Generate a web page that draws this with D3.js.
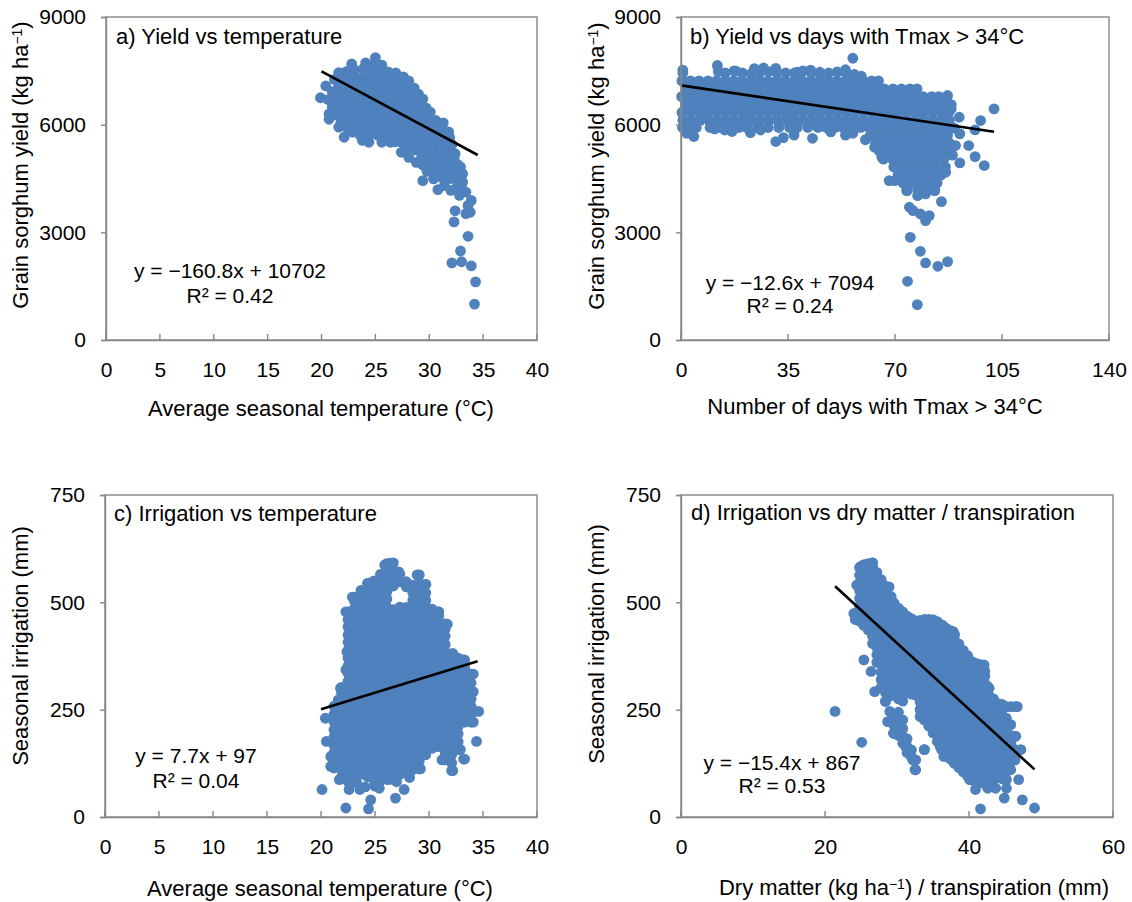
<!DOCTYPE html>
<html><head><meta charset="utf-8">
<script src="https://cdn.jsdelivr.net/npm/d3@7"></script>
<style>
body{margin:0;background:#fff}
text{font-family:"Liberation Sans",Arial,sans-serif;fill:#000}
</style>
</head><body>
<svg id="chart" width="1132" height="902"></svg>
<script>
// ---------- Tick labels ----------
const tempTicks = [0,5,10,15,20,25,30,35,40];
const daysTicks = [0,35,70,105,140];
const dmtTicks = [0,20,40,60];
const yieldTicks = [0,3000,6000,9000];
const irrTicks = [0,250,500,750];

// ---------- a) Yield vs temperature (x = °C, y = kg/ha) ----------
const yieldTempPts = [
[25.0,7870],
[22.8,7690],[24.1,7720],[24.7,7650],[25.6,7660],
[21.6,7450],[22.3,7480],[23.1,7520],[23.9,7560],[24.7,7480],[25.5,7530],[26.2,7470],[26.9,7440],
[21.2,7260],[22.0,7300],[22.8,7320],[23.6,7290],[24.4,7330],[25.2,7300],[26.0,7310],[26.8,7280],[27.6,7330],[28.1,7220],
[20.4,7080],[21.6,7100],[22.4,7120],[23.2,7090],[24.0,7110],[24.8,7100],[25.6,7120],[26.4,7090],[27.2,7110],[28.0,7080],[28.6,7020],
[21.0,6920],[21.8,6890],[22.6,6910],[23.4,6880],[24.2,6900],[25.0,6920],[25.8,6890],[26.6,6900],[27.4,6910],[28.2,6880],[29.0,6850],
[19.9,6750],[20.6,6700],[21.4,6690],[22.2,6720],[23.0,6700],[23.8,6680],[24.6,6710],[25.4,6700],[26.2,6690],[27.0,6710],[27.8,6700],[28.6,6680],[29.4,6720],
[21.0,6500],[21.8,6520],[22.6,6490],[23.4,6510],[24.2,6500],[25.0,6480],[25.8,6510],[26.6,6500],[27.4,6490],[28.2,6520],[29.0,6500],[29.7,6470],
[20.7,6300],[21.4,6280],[22.2,6310],[23.0,6300],[23.8,6290],[24.6,6320],[25.4,6300],[26.2,6280],[27.0,6310],[27.8,6300],[28.6,6290],[29.4,6310],[30.1,6350],
[20.7,6150],[21.8,6100],[22.6,6080],[23.4,6110],[24.2,6100],[25.0,6090],[25.8,6110],[26.6,6100],[27.4,6080],[28.2,6110],[29.0,6100],[29.8,6090],[30.6,6120],[31.3,6050],
[21.6,5930],[22.4,5900],[23.2,5880],[24.0,5910],[24.8,5890],[25.6,5900],[26.4,5920],[27.2,5890],[28.0,5900],[28.8,5880],[29.6,5910],[30.4,5900],[31.2,5890],[31.8,5800],
[22.1,5650],[22.9,5790],[23.6,5700],[24.4,5690],[25.2,5710],[26.0,5700],[26.8,5680],[27.6,5710],[28.4,5700],[29.2,5690],[30.0,5710],[30.8,5700],[31.6,5680],[31.9,5640],
[23.8,5560],[24.4,5510],[25.6,5510],[26.4,5510],[26.8,5520],[27.5,5490],[28.2,5510],[29.0,5500],[29.8,5480],[30.6,5510],[31.4,5500],[32.1,5450],
[27.4,5230],[28.0,5300],[28.8,5290],[29.6,5310],[30.4,5300],[31.2,5280],[31.9,5320],[32.4,5190],
[28.1,5090],[28.8,4950],[29.3,5100],[30.0,5080],[30.8,5110],[31.6,5090],[32.3,5060],
[29.4,4880],[30.2,4900],[31.0,4920],[31.8,4890],[32.6,4900],[32.9,4820],
[29.8,4700],[30.6,4690],[31.4,4710],[32.2,4700],[32.9,4680],[33.1,4630],
[29.4,4440],[30.4,4490],[31.2,4520],[32.0,4500],[32.8,4480],[33.1,4400],
[30.8,4190],[31.4,4300],[32.0,4170],[32.6,4290],[33.0,4250],[33.4,4120],
[33.9,3890],[32.8,4030],[33.6,3750],[33.8,3560],[33.4,3520],[32.4,3600],[32.3,3290],
[33.6,2890],[32.9,2480],[32.1,2150],[33.0,2180],[33.9,2065],[34.3,1620],[34.2,1000]
];
const yieldTempFit = [-160.8, 10702, 20.0, 34.5];

// ---------- b) Yield vs days with Tmax > 34°C (rows: y, list of x) ----------
const daysYieldRows = [
[7440,[0.6,14.5,20.1,25.8,31.4,37.1,42.6,48.3,53.9]],
[7220,[0.3,3.1,5.9,8.8,11.6,14.4,17.2,20.0,22.9,25.7,28.5,31.3,34.1,37.0,39.8,42.6,45.4,48.2,51.0,53.9,56.7,59.5,62.3,64.6]],
[7000,[1.6,4.5,7.3,10.1,12.9,15.8,18.6,21.4,24.2,27.0,29.9,32.7,35.5,38.3,41.1,43.9,46.8,49.6,52.4,55.2,58.0,60.9,63.7,66.5,69.3,72.1,74.9,77.2]],
[6780,[0.2,3.0,5.9,8.7,11.5,14.3,17.1,20.0,22.8,25.6,28.4,31.2,34.1,36.9,39.7,42.5,45.3,48.2,51.0,53.8,56.6,59.4,62.3,65.1,67.9,70.7,73.5,76.4,79.2,82.0,84.3,87.0]],
[6560,[1.5,4.4,7.2,10.0,12.8,15.6,18.5,21.3,24.1,26.9,29.7,32.6,35.4,38.2,41.0,43.8,46.7,49.5,52.3,55.1,57.9,60.8,63.6,66.4,69.2,72.0,74.9,77.7,80.5,83.3,86.0,88.4]],
[6340,[0.3,3.1,5.9,8.7,11.6,14.4,17.2,20.0,22.8,25.7,28.5,31.3,34.1,36.9,39.8,42.6,45.4,48.2,51.0,53.9,56.7,59.5,62.3,65.1,68.0,70.8,73.6,76.4,79.2,82.1,84.9,87.6]],
[6120,[0.6,3.4,6.3,9.1,11.9,14.7,17.5,20.4,23.2,26.0,28.8,31.6,34.5,37.3,40.1,42.9,45.7,48.6,51.4,54.2,57.0,59.8,62.7,65.5,68.3,71.1,73.9,76.8,79.6,82.4,85.2,87.8]],
[5920,[0.5,2.5,5.0,9.5,13.0,15.8,19.0,21.5,25.0,28.5,32.0,35.5,38.0,41.5,44.8,47.5,50.5,53.0,56.0,58.8,61.5,64.2,67.0,69.8,72.6,75.4,78.2,81.0,83.8,86.6]],
[5700,[61.9,64.7,67.5,70.3,73.1,76.0,78.8,81.6,84.4,87.2]],
[5480,[63.6,66.3,69.1,71.9,74.7,77.6,80.4,83.2,86.0,87.9]],
[5260,[64.9,67.7,70.5,73.3,76.1,79.0,81.8,84.6,87.3]],
[5040,[66.2,69.1,71.9,74.7,77.5,80.3,83.2,86.0]],
[4820,[69.6,72.4,75.2,78.0,80.9,83.7,86.5]],
[4600,[71.0,73.8,76.6,79.4,82.3,85.1]],
[4380,[72.6,75.4,78.2,81.0,83.8]],
[4170,[74.0,77.4,80.0,83.0]]
];
const daysYieldExtra = [
[0.6,7520],[11.9,7650],[18.0,7490],[24.0,7560],[27.0,7580],[31.0,7570],[42.4,7520],[45.4,7460],[53.8,7530],[56.2,7850],[38.0,7460],
[12.2,7480],[17.4,7500],[23.0,7420],[28.7,7480],[34.2,7440],[39.9,7500],[45.5,7420],[51.1,7470],[56.7,7400],[59.0,7350],
[1.8,5760],[4.2,5670],[3.6,5950],[14.3,5850],[16.7,5810],[22.7,5780],[31.0,5530],[33.5,5640],[37.0,5710],[43.0,5620],[49.0,5800],[53.8,5710],[56.2,5760],[60.3,5580],[11.0,5880],[26.0,5850],
[88.4,6440],[91.0,6208],[98.0,6115],[102.4,6440],[96.2,5855],[91.2,5743],[94.1,5418],[89.8,5418],[96.2,5111],[99.2,4861],[91.2,4935],[86.6,4675],[87.2,6812],[89.5,5900],[88.8,5150],
[85.2,3857],[74.7,3699],[75.9,3606],[78.3,3513],[80.0,3327],[81.2,3467],[75.0,2862],[78.3,2472],[80.0,2147],[84.0,2054],[87.2,2184],[74.1,1636],[77.3,985],
[77.4,4024],[80.0,4070],[83.0,4164],[68.1,4442],[69.9,4442],[72.9,4368],[73.8,4164],[65.7,5090],[63.3,5370]
];
const daysYieldFit = [-12.6, 7094, 0, 102.4];

// ---------- c) Irrigation vs temperature (columns: x, list of y) ----------
const irrTempCols = [
[21.2,[114,131,150,167,186,203,222,239,258]],
[21.9,[93,110,129,146,165,182,201,218,237,254,273,290,302]],
[22.5,[83,100,119,136,155,172,191,208,227,244,263,280,299,316,335,352,371,388,407,424,443,460,478]],
[23.1,[90,109,126,145,162,181,198,217,234,253,270,289,306,325,342,361,378,397,414,433,450,469,486,503,512]],
[23.7,[100,117,136,153,172,189,208,225,244,261,280,297,316,333,352,369,388,405,424,441,460,477,496,513,528]],
[24.3,[94,113,130,149,166,185,202,221,238,257,274,293,310,329,346,365,382,401,418,437,454,473,490,509,526,544]],
[24.9,[87,106,123,142,159,178,195,214,231,250,267,286,303,322,339,358,375,394,411,430,447,466,483,502,519,536,550]],
[25.5,[84,103,120,139,156,175,192,211,228,247,264,283,300,319,336,355,372,391,408,427,444,463,480,499,516,535,552,565]],
[26.1,[93,112,129,148,165,184,201,220,237,256,273,292,309,328,345,364,381,400,417,436,453,472,489,508,525,544,561,578,590]],
[26.7,[87,104,123,140,159,176,195,212,231,248,267,284,303,320,339,356,375,392,411,428,447,464,483,538,556,574,592]],
[27.3,[99,118,135,154,171,190,207,226,243,262,279,298,315,334,351,370,387,406,423,442,459,478,489,548,566]],
[27.9,[110,127,146,163,182,199,218,235,254,271,290,307,326,343,362,379,398,415,434,451,470,488,536,548]],
[28.5,[110,128,145,164,181,200,217,236,253,272,289,308,325,344,361,380,397,416,433,452,469,488,505,522,540]],
[29.1,[112,130,148,165,184,201,220,237,256,273,292,309,328,345,364,381,400,417,436,453,472,489,508,525,544,564]],
[29.7,[145,163,180,199,216,235,252,271,288,307,324,343,360,379,396,415,432,451,468,487,504,522,542]],
[30.3,[160,178,197,214,233,250,269,286,305,322,341,358,377,394,413,430,449,466,484]],
[30.9,[164,182,199,218,235,254,271,290,307,326,343,362,379,398,415,434,451,468,478]],
[31.5,[133,150,169,186,205,222,241,258,277,294,313,330,349,366,385,402,421,438,450]],
[32.1,[108,126,145,162,181,198,217,234,253,270,289,306,325,342,361,380]],
[32.7,[157,175,194,211,230,247,266,283,302,319,338,355,370]],
[33.3,[135,221,240,257,276,293,312,329,348,366]],
[33.9,[221,239,258,275,294,312,333]]
];
const irrTempExtra = [
[20.1,64],[20.4,230],[20.5,176],[20.9,118],[20.9,141],[21.7,87],[22.3,21],[24.4,19],[24.6,40],[25.4,67],[26.9,44],[27.7,64],
[28.0,110],[29.2,112],[29.0,141],[30.4,164],[31.2,133],[32.2,108],[32.9,157],[33.2,135],[34.4,176],[34.6,246],[34.1,292],[34.1,333],
[34.1,221],[33.1,366],[32.2,381],[31.7,449],[30.9,478],[29.7,542],[28.9,564],[27.2,571],[26.4,591],[25.9,587],[24.9,548],[24.4,544],
[22.9,512],[22.3,478],[22.6,455],[22.4,385],[22.3,343],[21.6,273],[21.8,300],[22.6,64],[23.6,64],[26.2,87],[31.2,437],[32.6,300],[33.8,280],
[24.1,70],[25.0,72],[23.3,80],[27.0,82],[28.2,92]
];
const irrTempFit = [7.7, 97, 20.0, 34.5];

// ---------- d) Irrigation vs dry matter / transpiration (columns: x, list of y) ----------
const irrDmtCols = [
[24.8,[456,474,491,509,527,545,563,581]],
[25.4,[446,463,482,499,518,535,554,571,588]],
[26.0,[436,454,471,490,507,526,543,562,579,590]],
[26.6,[404,421,440,457,476,493,512,529,548,565,583,592]],
[27.2,[360,378,395,414,431,450,467,486,503,522,539,558,570]],
[27.8,[302,320,337,356,373,392,409,428,445,464,481,500,517,536,553]],
[28.4,[270,290,307,326,343,362,379,398,415,434,451,470,487,506,523,538]],
[29.0,[222,246,282,299,318,335,354,371,390,407,426,443,462,479,498,514]],
[29.6,[195,213,231,284,301,320,337,356,373,392,409,428,445,464,481,498]],
[30.2,[190,208,226,244,275,294,311,330,347,366,383,402,419,438,455,474,486]],
[30.8,[172,188,206,226,270,289,306,325,342,361,378,397,414,433,450,469,478]],
[31.4,[150,164,182,290,307,326,343,362,379,398,415,434,451,468]],
[32.0,[140,156,286,303,322,339,358,375,394,411,430,447,462]],
[32.6,[110,133,284,303,320,339,356,375,392,411,428,447,457]],
[33.2,[234,250,268,287,304,323,340,359,376,395,412,431,448,458]],
[33.8,[157,226,244,261,280,297,316,333,352,369,388,405,424,441,460]],
[34.4,[212,229,248,265,284,301,320,337,356,373,392,409,428,445,460]],
[35.0,[196,214,231,250,267,286,303,322,339,358,375,394,411,430,447,459]],
[35.6,[176,193,212,229,248,265,284,301,320,337,356,373,392,409,428,445,455]],
[36.2,[157,175,192,211,228,247,264,283,300,319,336,355,372,391,408,427,447]],
[36.8,[141,159,176,195,212,231,248,267,284,303,320,339,356,375,392,411,428,440]],
[37.4,[135,153,170,189,206,225,242,261,278,297,314,333,350,369,386,405,422,434]],
[38.0,[125,143,160,179,196,215,232,251,268,287,304,323,340,359,376,395,412,425]],
[38.6,[115,133,150,169,186,205,222,241,258,277,294,313,330,349,366,385,403]],
[39.2,[105,123,140,159,176,195,212,231,248,267,284,303,320,339,356,374,388]],
[39.8,[95,113,130,149,166,185,202,221,238,257,274,293,310,329,346,364,376]],
[40.4,[86,100,117,136,153,172,189,208,225,244,261,280,297,316,333,350,362]],
[41.0,[82,99,118,135,154,171,190,207,226,243,262,279,298,315,332,350,358]],
[41.6,[80,97,116,133,152,169,188,205,224,241,260,277,296,313,330,346,355]],
[42.2,[78,95,114,131,150,167,186,203,222,239,258,275,294,311,328,340]],
[42.8,[85,102,121,138,157,174,193,210,229,246,265,282,300]],
[43.4,[85,104,121,140,157,176,193,212,229,248,265,275]],
[44.0,[95,114,131,150,167,186,203,222,239,256,264]],
[44.6,[89,106,125,142,161,178,197,214,233,250,262]],
[45.2,[87,106,123,142,159,178,195,211,230,257]],
[45.8,[110,128,150,172,190,215,257]],
[46.4,[133,157,188,257]]
];
const irrDmtExtra = [
[21.4,246],[25.1,174],[25.4,366],[26.4,339],[26.9,292],[24.2,460],[24.0,474],[24.4,540],[24.9,583],[26.6,592],
[41.6,19],[47.2,157],[46.9,87],[47.4,40],[49.1,21],[46.5,188],[45.2,211],[46.7,257],[44.2,261],[43.1,273],[42.6,304],
[42.1,354],[40.6,358],[39.1,385],[37.8,432],[36.3,447],[35.0,459],[32.7,455],[30.2,486],[29.2,513],[28.9,536],[27.4,556],
[33.8,157],[32.5,110],[32.2,133],[31.7,149],[31.2,164],[30.7,188],[29.5,195],[28.7,222],[28.4,269],
[40.9,64],[40.1,87],[39.1,110],[37.8,129],[36.5,141],[36.0,164],[35.0,203],[42.6,67],[43.7,67],[44.9,44],[45.2,67],[46.2,133]
];
const irrDmtFit = [-15.4, 867, 21.4, 49.1];

// ---------- helpers ----------
const fromRows = rows => rows.flatMap(([y, xs]) => xs.map(x => [x, y]));
const fromCols = cols => cols.flatMap(([x, ys]) => ys.map(y => [x, y]));

const panels = [
  {l:106,r:537,t:17,b:340, xd:[0,40], xt:tempTicks, yd:[0,9000], yt:yieldTicks,
   pts: yieldTempPts, fit: yieldTempFit,
   title:"a) Yield vs temperature", tx:116, ty:44,
   xl:"Average seasonal temperature (°C)", xlx:321, xly:416,
   yl:["Grain sorghum yield (kg ha","−1",")"], ylx:28, yly:165,
   eq:["y = −160.8x + 10702","R² = 0.42"], ex:230, ey:[278,303]},
  {l:681,r:1109,t:17,b:340, xd:[0,140], xt:daysTicks, yd:[0,9000], yt:yieldTicks,
   pts: fromRows(daysYieldRows).concat(daysYieldExtra), fit: daysYieldFit,
   title:"b) Yield vs days with Tmax > 34°C", tx:690, ty:44,
   xl:"Number of days with Tmax > 34°C", xlx:875, xly:414,
   yl:["Grain sorghum yield (kg ha","−1",")"], ylx:604, yly:166,
   eq:["y = −12.6x + 7094","R² = 0.24"], ex:790, ey:[290,313]},
  {l:105,r:537,t:495,b:817, xd:[0,40], xt:tempTicks, yd:[0,750], yt:irrTicks,
   pts: fromCols(irrTempCols).concat(irrTempExtra), fit: irrTempFit,
   title:"c) Irrigation vs temperature", tx:114, ty:521,
   xl:"Average seasonal temperature (°C)", xlx:320, xly:896,
   yl:["Seasonal irrigation (mm)"], ylx:28, yly:646,
   eq:["y = 7.7x + 97","R² = 0.04"], ex:196, ey:[763,788]},
  {l:681,r:1113,t:495,b:817, xd:[0,60], xt:dmtTicks, yd:[0,750], yt:irrTicks,
   pts: fromCols(irrDmtCols).concat(irrDmtExtra), fit: irrDmtFit,
   title:"d) Irrigation vs dry matter / transpiration", tx:691, ty:520,
   xl:["Dry matter (kg ha","−1",") / transpiration (mm)"], xlx:914, xly:895,
   yl:["Seasonal irrigation (mm)"], ylx:604, yly:644,
   eq:["y = −15.4x + 867","R² = 0.53"], ex:782, ey:[770,793]}
];

const svg = d3.select("#chart");
const FS = 21, FT = 22;
const frameColor = "#868686";
const dotColor = "#4f81bd";

function addLabel(sel, parts){
  if (typeof parts === "string") parts = [parts];
  parts.forEach((p, i) => {
    if (i === 1) {
      sel.append("tspan").attr("font-size", 14).attr("baseline-shift", "40%").text(p);
    } else {
      sel.append("tspan").text(p);
    }
  });
}

panels.forEach(p => {
  const g = svg.append("g");
  const x = d3.scaleLinear().domain(p.xd).range([p.l, p.r]);
  const y = d3.scaleLinear().domain(p.yd).range([p.b, p.t]);

  // points
  g.append("g").selectAll("circle").data(p.pts).join("circle")
    .attr("cx", d => x(d[0])).attr("cy", d => y(d[1])).attr("r", 5.4)
    .attr("fill", dotColor);

  // trend line
  const [m, c, x0, x1] = p.fit;
  g.append("line")
    .attr("x1", x(x0)).attr("y1", y(m*x0 + c))
    .attr("x2", x(x1)).attr("y2", y(m*x1 + c))
    .attr("stroke", "#000").attr("stroke-width", 2.6);

  // frame
  g.append("rect").attr("x", p.l).attr("y", p.t).attr("width", p.r - p.l).attr("height", p.b - p.t)
    .attr("fill", "none").attr("stroke", frameColor).attr("stroke-width", 1.4);

  // x axis (ticks inside)
  const xa = d3.axisBottom(x).tickValues(p.xt).tickSize(0).tickPadding(22).tickFormat(d3.format("d"));
  const gx = g.append("g").attr("transform", `translate(0,${p.b})`).call(xa);
  gx.select(".domain").attr("stroke", frameColor).attr("stroke-width", 1.4);
  gx.selectAll("text").attr("font-size", FS).attr("font-family", "Liberation Sans, Arial, sans-serif");
  g.append("g").selectAll("line").data(p.xt).join("line")
    .attr("x1", d => x(d)).attr("x2", d => x(d)).attr("y1", p.b).attr("y2", p.b - 6)
    .attr("stroke", frameColor).attr("stroke-width", 1.4);

  // y axis (ticks outside)
  const ya = d3.axisLeft(y).tickValues(p.yt).tickSize(5).tickPadding(15).tickFormat(d3.format("d"));
  const gy = g.append("g").attr("transform", `translate(${p.l},0)`).call(ya);
  gy.select(".domain").attr("stroke", frameColor).attr("stroke-width", 1.4);
  gy.selectAll(".tick line").attr("stroke", frameColor).attr("stroke-width", 1.4);
  gy.selectAll("text").attr("font-size", FS).attr("font-family", "Liberation Sans, Arial, sans-serif");

  // panel title
  g.append("text").attr("x", p.tx).attr("y", p.ty).attr("font-size", FT).text(p.title);

  // x label
  const xt = g.append("text").attr("x", p.xlx).attr("y", p.xly).attr("font-size", FT).attr("text-anchor", "middle");
  addLabel(xt, p.xl);

  // y label
  const yt = g.append("text").attr("transform", `translate(${p.ylx},${p.yly}) rotate(-90)`)
    .attr("font-size", FT).attr("text-anchor", "middle");
  addLabel(yt, p.yl);

  // equation
  p.eq.forEach((s, i) => {
    g.append("text").attr("x", p.ex).attr("y", p.ey[i]).attr("font-size", FS)
      .attr("text-anchor", "middle").text(s);
  });
});
</script>
</body></html>
